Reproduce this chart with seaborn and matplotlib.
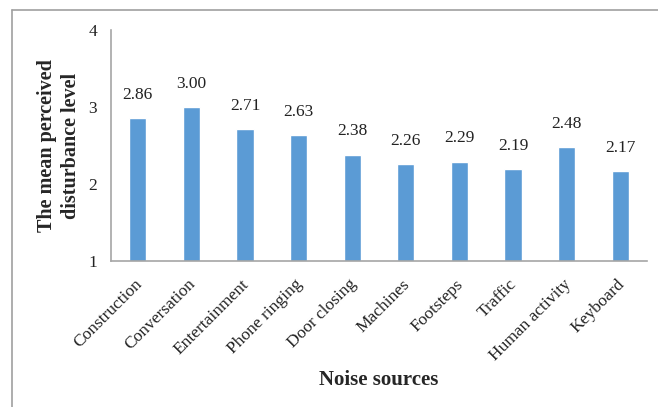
import matplotlib
matplotlib.use("Agg")
import matplotlib.pyplot as plt
import matplotlib.transforms as mtransforms
import seaborn as sns
import pandas as pd
from matplotlib.lines import Line2D

categories = ["Construction", "Conversation", "Entertainment", "Phone ringing",
              "Door closing", "Machines", "Footsteps", "Traffic",
              "Human activity", "Keyboard"]
values = [2.86, 3.00, 2.71, 2.63, 2.38, 2.26, 2.29, 2.19, 2.48, 2.17]
yticks = [1, 2, 3, 4]

sns.set_theme(style="white")
plt.rcParams["font.family"] = ["Liberation Serif", "DejaVu Serif"]

df = pd.DataFrame({"source": categories, "value": values})

fig = plt.figure(figsize=(6.58, 4.07), dpi=100)
ax = fig.add_axes([111/658, 1 - 261/407, (647-111)/658, (261-30)/407])

sns.barplot(data=df, x="source", y="value", color="#5B9BD5", saturation=1,
            width=0.32, ax=ax, order=categories)

ax.set_ylim(1, 4)
ax.set_xlim(-0.5, len(categories) - 0.5)
ax.set_yticks(yticks)
ax.set_yticklabels([str(t) for t in yticks], fontsize=12.5, color="#222222")
ax.set_xticks(range(len(categories)))
ax.set_xticklabels(categories, rotation=45, ha="right", rotation_mode="anchor",
                   fontsize=12.5, color="#222222")
ax.tick_params(axis="y", length=0, pad=10)
ax.tick_params(axis="x", length=0, pad=11)
shift = mtransforms.ScaledTranslation(-4/100, 0, fig.dpi_scale_trans)
for lbl in ax.get_xticklabels():
    lbl.set_transform(lbl.get_transform() + shift)

for c in ax.containers:
    ax.bar_label(c, labels=[f"{v:.2f}" for v in values], padding=11,
                 fontsize=12.5, color="#222222")

for s in ["top", "right"]:
    ax.spines[s].set_visible(False)
for s in ["left", "bottom"]:
    ax.spines[s].set_color("#a6a6a6")
    ax.spines[s].set_linewidth(1.2)

ax.set_xlabel("Noise sources", fontsize=15, fontweight="bold")
ax.xaxis.set_label_coords(0.5, -0.47)
ax.set_ylabel("The mean perceived\ndisturbance level", fontsize=14.5,
              fontweight="bold", linespacing=1.3)
ax.yaxis.set_label_coords(-0.097, 0.5)
ax.yaxis.label.set_verticalalignment("center")

# outer frame
fx = 12/658
fy = 1 - 10/407
fig.add_artist(Line2D([fx, 1], [fy, fy], color="#a0a0a0", lw=1.2, transform=fig.transFigure))
fig.add_artist(Line2D([fx, fx], [0, fy], color="#a0a0a0", lw=1.2, transform=fig.transFigure))

fig.savefig("out.png", dpi=100)
